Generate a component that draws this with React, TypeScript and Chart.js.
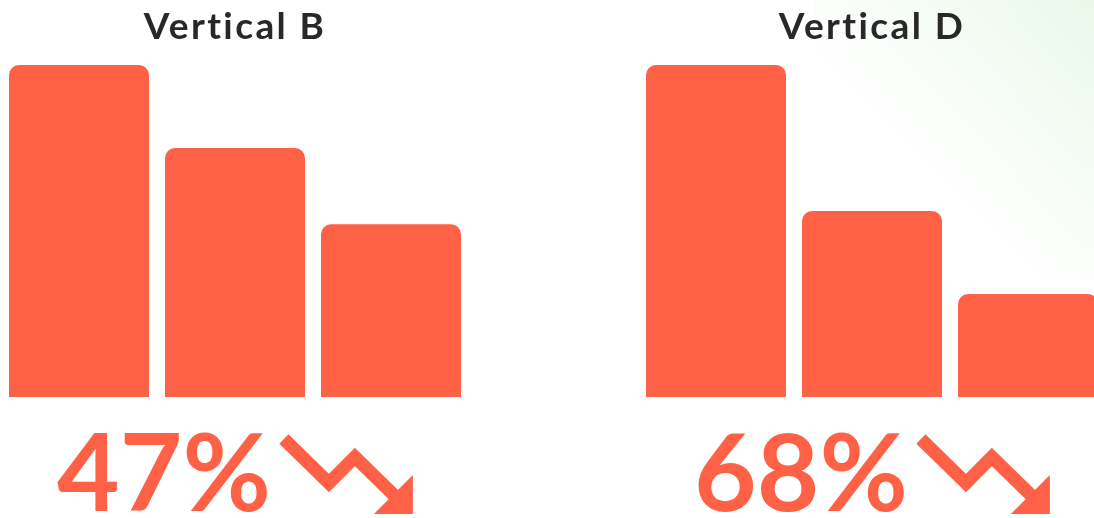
import React, { useEffect, useRef } from "react";
import { Chart, registerables } from "chart.js";

Chart.register(...registerables);

const categories = ["1", "2", "3"];
const seriesB = [100, 75, 52];
const seriesD = [100, 56, 31];
const titleB = "Vertical B";
const titleD = "Vertical D";
const statB = "47%";
const statD = "68%";

const BAR_COLOR = "#FF6146";
const TEXT_COLOR = "#282828";

const spacingPlugin = {
  id: "spacingPlugin",
  beforeDraw(chart: any) {
    (chart.ctx as any).letterSpacing = "2.4px";
  },
  beforeDatasetsDraw(chart: any) {
    (chart.ctx as any).letterSpacing = "0px";
  },
};

const statPlugin = {
  id: "statPlugin",
  afterDraw(chart: any) {
    const opts = chart.options.plugins.statPlugin;
    if (!opts) return;
    const { ctx, chartArea } = chart;
    const cx = (chartArea.left + chartArea.right) / 2;
    ctx.save();
    (ctx as any).letterSpacing = "0px";
    ctx.font = "700 108px Lato";
    const w = ctx.measureText(opts.text).width;
    const arrowW = 134;
    const gap = 8;
    const total = w + gap + arrowW;
    const x0 = cx - total / 2;
    const baseY = 511;
    ctx.fillStyle = BAR_COLOR;
    ctx.textBaseline = "alphabetic";
    ctx.textAlign = "left";
    ctx.fillText(opts.text, x0, baseY);
    const ax = x0 + w + gap;
    const ay = 433;
    ctx.strokeStyle = BAR_COLOR;
    ctx.lineWidth = 13;
    ctx.lineCap = "butt";
    ctx.lineJoin = "miter";
    ctx.beginPath();
    ctx.moveTo(ax + 5, ay + 6);
    ctx.lineTo(ax + 50, ay + 50);
    ctx.lineTo(ax + 76, ay + 24);
    ctx.lineTo(ax + 119, ay + 66);
    ctx.stroke();
    ctx.beginPath();
    ctx.moveTo(ax + 134, ay + 42);
    ctx.lineTo(ax + 134, ay + 81);
    ctx.lineTo(ax + 95, ay + 81);
    ctx.closePath();
    ctx.fill();
    ctx.restore();
  },
};

function BarPanel({ data, title, stat, left }: { data: number[]; title: string; stat: string; left: number }) {
  const ref = useRef<HTMLCanvasElement>(null);
  useEffect(() => {
    if (!ref.current) return;
    const chart = new Chart(ref.current, {
      type: "bar",
      data: {
        labels: categories,
        datasets: [
          {
            data,
            backgroundColor: BAR_COLOR,
            borderRadius: { topLeft: 10, topRight: 10, bottomLeft: 0, bottomRight: 0 },
            borderSkipped: false,
            categoryPercentage: 1,
            barPercentage: 140 / 156,
          },
        ],
      },
      options: {
        animation: false,
        responsive: true,
        maintainAspectRatio: false,
        layout: { padding: { left: 1, right: 1, top: 0, bottom: 121 } },
        scales: {
          x: { display: false },
          y: { display: false, min: 0, max: 100 },
        },
        plugins: {
          legend: { display: false },
          tooltip: { enabled: false },
          title: {
            display: true,
            text: title,
            color: TEXT_COLOR,
            font: { family: "Lato", size: 37, weight: "bold", lineHeight: 1.2 },
            padding: { top: 5, bottom: 15.6 },
          },
          statPlugin: { text: stat },
        } as any,
      },
      plugins: [spacingPlugin, statPlugin],
    });
    return () => chart.destroy();
  }, [data, title, stat]);
  return (
    <div style={{ position: "absolute", left, top: 0, width: 470, height: 518 }}>
      <canvas ref={ref} />
    </div>
  );
}

export default function App() {
  return (
    <div
      style={{
        position: "fixed",
        left: 0,
        top: 0,
        width: 1094,
        height: 518,
        overflow: "hidden",
        background: "#ffffff",
      }}
    >
      <div
        style={{
          position: "absolute",
          right: 0,
          top: 0,
          width: 280,
          height: 280,
          background: "linear-gradient(to bottom left, #eaf8ea 0%, rgba(255,255,255,0) 60%)",
        }}
      />
      <BarPanel data={seriesB} title={titleB} stat={statB} left={0} />
      <BarPanel data={seriesD} title={titleD} stat={statD} left={637} />
    </div>
  );
}
